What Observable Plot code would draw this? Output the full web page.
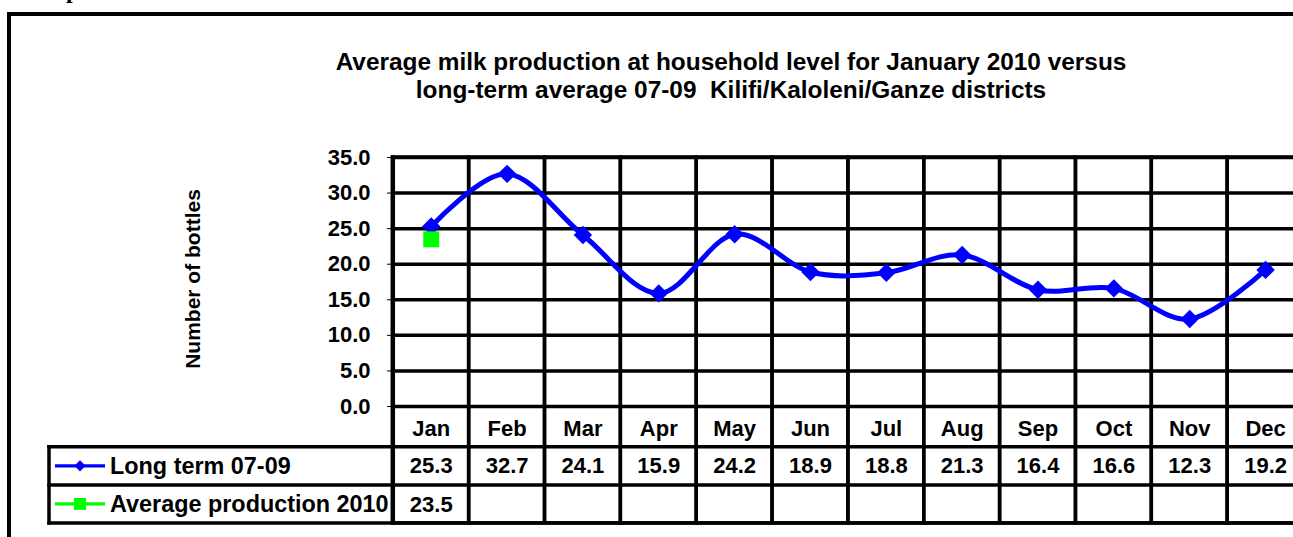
<!DOCTYPE html>
<html>
<head>
<meta charset="utf-8">
<script src="https://cdn.jsdelivr.net/npm/d3@7"></script>
<script src="https://cdn.jsdelivr.net/npm/@observablehq/plot@0.6"></script>
<style>
  html, body { margin: 0; padding: 0; background: #fff; overflow: hidden; width: 1293px; height: 537px; }
  #wrap { position: relative; width: 1293px; height: 537px; overflow: hidden; font-family: "Liberation Sans", Arial, sans-serif; font-weight: bold; color: #000; }
  #wrap svg { position: absolute; left: 0; top: 0; }
  #frame { position: absolute; left: 7px; top: 11.5px; width: 1400px; height: 700px; border: 4.5px solid #000; box-sizing: border-box; pointer-events: none; }
  #title { position: absolute; left: 331px; width: 800px; top: 47.5px; text-align: center; font-size: 24.4px; line-height: 28px; white-space: pre; }
  #pageMark { position: absolute; left: 66px; top: -22px; font-family: "Liberation Serif", "Times New Roman", serif; font-weight: bold; font-size: 24px; line-height: 24px; }
</style>
</head>
<body>
<div id="wrap"></div>
<script>
// ---------------- data ----------------
const months = ["Jan", "Feb", "Mar", "Apr", "May", "Jun", "Jul", "Aug", "Sep", "Oct", "Nov", "Dec"];
const longTerm = [25.3, 32.7, 24.1, 15.9, 24.2, 18.9, 18.8, 21.3, 16.4, 16.6, 12.3, 19.2];
const avg2010Months = ["Jan"];
const avg2010 = [23.5];
const yTicks = [0, 5, 10, 15, 20, 25, 30, 35];
const seriesNames = ["Long term 07-09", "Average production 2010"];
const seriesColors = ["#0000FF", "#00FF00"];
const titleLines = [
  "Average milk production at household level for January 2010 versus",
  "long-term average 07-09  Kilifi/Kaloleni/Ganze districts"
];
const yLabel = "Number of bottles";

// ---------------- layout ----------------
const W = 1293, H = 537;
const M = { top: 157, bottom: 131, left: 393, right: 0 };
const X_RANGE = [392.8, 1303];
const ROW_EDGES = [40.7, 78.9, 116.9];   // data-table row lines below the y=0 line
const LEGEND_LEFT = 49;
const GRID_W = 3.5;

const longRows = months.map((m, i) => ({ month: m, value: longTerm[i] }));
const avgRows = avg2010Months.map((m, i) => ({ month: m, value: avg2010[i] }));

function dataTableFrame(index, scales, values, dimensions) {
  const { width, height, marginBottom, marginTop } = dimensions;
  const base = height - marginBottom;
  const [r1, r2, r3] = ROW_EDGES.map(o => base + o);
  const g = d3.create("svg:g");
  for (const y of [r1, r2, r3]) {
    g.append("line")
      .attr("x1", LEGEND_LEFT - GRID_W / 2).attr("x2", width + 20)
      .attr("y1", y).attr("y2", y)
      .attr("stroke", "#000").attr("stroke-width", GRID_W);
  }
  g.append("line")
    .attr("x1", LEGEND_LEFT).attr("x2", LEGEND_LEFT)
    .attr("y1", r1 - GRID_W / 2).attr("y2", r3 + GRID_W / 2)
    .attr("stroke", "#000").attr("stroke-width", GRID_W);
  // slightly heavier value-axis edge (left edge of the plot / table)
  g.append("line")
    .attr("x1", X_RANGE[0]).attr("x2", X_RANGE[0])
    .attr("y1", marginTop - GRID_W / 2).attr("y2", r3 + GRID_W / 2)
    .attr("stroke", "#000").attr("stroke-width", 4.5);
  const centers = [(r1 + r2) / 2, (r2 + r3) / 2];
  const symbols = [d3.symbol(d3.symbolDiamond2, 80), d3.symbol(d3.symbolSquare, 144)];
  seriesNames.forEach((name, i) => {
    const cy = centers[i];
    g.append("line")
      .attr("x1", 55).attr("x2", 105).attr("y1", cy).attr("y2", cy)
      .attr("stroke", seriesColors[i]).attr("stroke-width", 3.3);
    g.append("path")
      .attr("transform", `translate(80,${cy})`)
      .attr("d", symbols[i]())
      .attr("fill", seriesColors[i]);
    g.append("text")
      .attr("x", 110).attr("y", cy).attr("dy", "0.35em")
      .attr("text-anchor", "start")
      .attr("font-size", 23.4).attr("font-weight", "bold")
      .attr("fill", "#000")
      .text(name);
  });
  return g.node();
}

const chart = Plot.plot({
  width: W,
  height: H,
  marginTop: M.top,
  marginBottom: M.bottom,
  marginLeft: M.left,
  marginRight: M.right,
  style: "font-family: 'Liberation Sans', Arial, sans-serif; font-size: 22px; font-weight: bold; background: transparent; overflow: visible; color: #000;",
  x: {
    type: "band", domain: months, range: X_RANGE, padding: 0, round: false,
    tickSize: 0, tickPadding: 13.5, label: null
  },
  y: {
    domain: [0, 35], ticks: yTicks, tickFormat: d3.format(".1f"),
    tickSize: 6, tickPadding: 17, label: null
  },
  marks: [
    Plot.ruleY(yTicks, { stroke: "#000", strokeWidth: GRID_W }),
    Plot.cell(months, { x: d => d, fill: "none", stroke: "#000", strokeWidth: GRID_W, inset: 0, insetBottom: -ROW_EDGES[2] }),
    dataTableFrame,
    Plot.text(longRows, { x: "month", text: d => d.value.toFixed(1), frameAnchor: "bottom", lineAnchor: "middle", dy: 59.6, fontSize: 22, fontWeight: "bold", fill: "#000" }),
    Plot.text(avgRows, { x: "month", text: d => d.value.toFixed(1), frameAnchor: "bottom", lineAnchor: "middle", dy: 98, fontSize: 22, fontWeight: "bold", fill: "#000" }),
    Plot.text([yLabel], { text: d => d, frameAnchor: "left", textAnchor: "middle", lineAnchor: "middle", rotate: -90, dx: -200, dy: -3, fontSize: 21, fontWeight: "bold", fill: "#000" }),
    Plot.line(longRows, { x: "month", y: "value", curve: "cardinal", stroke: seriesColors[0], strokeWidth: 5 }),
    Plot.dot(longRows, { x: "month", y: "value", symbol: "diamond2", r: 8.3, fill: seriesColors[0], stroke: "none" }),
    Plot.dot(avgRows, { x: "month", y: "value", symbol: "square", r: 9, fill: seriesColors[1], stroke: "none" })
  ]
});

const wrap = document.getElementById("wrap");
wrap.appendChild(chart);

const title = document.createElement("div");
title.id = "title";
title.textContent = titleLines.join("\n");
wrap.appendChild(title);

const pageMark = document.createElement("div");
pageMark.id = "pageMark";
pageMark.textContent = "p";
wrap.appendChild(pageMark);

const frame = document.createElement("div");
frame.id = "frame";
wrap.appendChild(frame);
</script>
</body>
</html>
